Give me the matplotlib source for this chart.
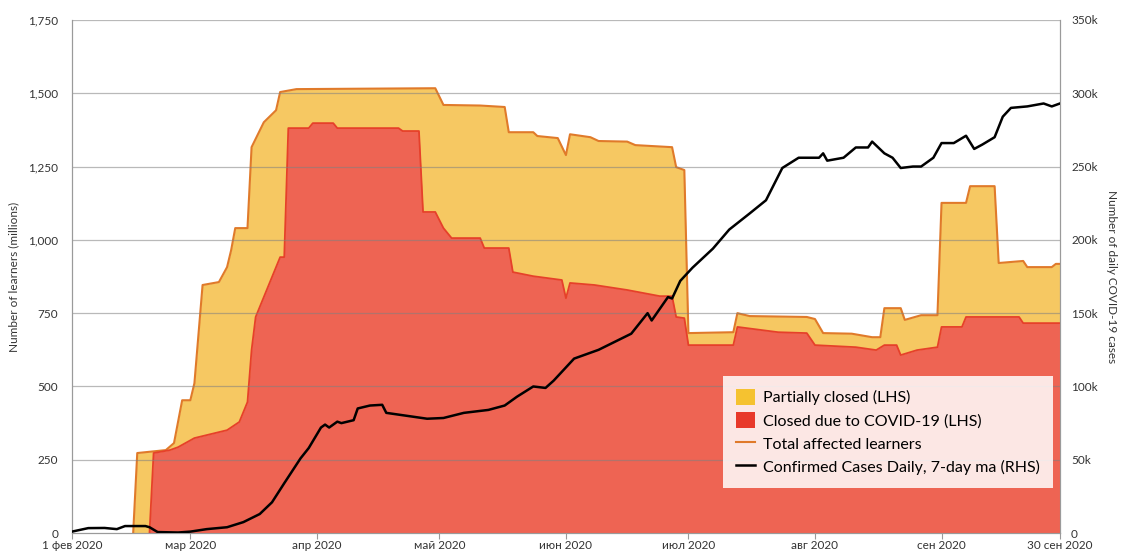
import numpy as np
import pandas as pd
import matplotlib
matplotlib.use('Agg')
import matplotlib.pyplot as plt
from matplotlib.patches import Patch
from matplotlib.lines import Line2D
from matplotlib.ticker import FuncFormatter

plt.rcParams['font.family'] = ['Lato', 'DejaVu Sans']

# ----------------------------------------------------------------------------------------------------------------------
# Data (learners in millions, cases in thousands)
# ----------------------------------------------------------------------------------------------------------------------
total_dates = ['02-16', '02-17', '02-24', '02-26', '02-28', '03-01', '03-02', '03-04', '03-08', '03-10', '03-11',
               '03-12', '03-15', '03-16', '03-19', '03-22', '03-23', '03-27', '04-30', '05-02', '05-11', '05-17',
               '05-18', '05-24', '05-25', '05-30', '06-01', '06-02', '06-07', '06-09', '06-16', '06-18', '06-27',
               '06-28', '06-30', '07-01', '07-12', '07-13', '07-16', '07-30', '08-01', '08-03', '08-10', '08-15',
               '08-17', '08-18', '08-22', '08-23', '08-27', '08-31', '09-01', '09-07', '09-08', '09-14', '09-15',
               '09-21', '09-22', '09-28', '09-29', '09-30']
total_vals = [0, 273, 283, 307, 453, 453, 511, 846, 856, 907, 965,
              1040, 1040, 1316, 1401, 1442, 1504, 1514, 1517, 1460, 1458, 1453,
              1367, 1367, 1354, 1347, 1289, 1360, 1350, 1337, 1335, 1323, 1316,
              1248, 1238, 682, 685, 750, 740, 737, 730, 682, 680, 668,
              668, 767, 767, 727, 743, 743, 1126, 1126, 1183, 1183, 921,
              928, 907, 907, 918, 918]

closed_dates = ['02-20', '02-21', '02-25', '02-27', '03-02', '03-10', '03-13', '03-15', '03-16', '03-17', '03-20',
                '03-21', '03-23', '03-24', '03-25', '03-30', '03-31', '04-05', '04-06', '04-21', '04-22', '04-26',
                '04-27', '04-30', '05-02', '05-04', '05-11', '05-12', '05-18', '05-19', '05-24', '05-31', '06-01',
                '06-02', '06-08', '06-16', '06-24', '06-27', '06-28', '06-30', '07-01', '07-12', '07-13', '07-23',
                '07-30', '08-01', '08-11', '08-16', '08-18', '08-21', '08-22', '08-26', '08-31', '09-01', '09-06',
                '09-07', '09-20', '09-21', '09-30']
closed_vals = [0, 273, 283, 293, 324, 351, 379, 447, 624, 737, 839,
               873, 941, 941, 1381, 1381, 1398, 1398, 1381, 1381, 1371, 1371,
               1095, 1095, 1040, 1006, 1006, 972, 972, 890, 876, 863, 801,
               853, 846, 829, 808, 808, 737, 733, 641, 641, 703, 685,
               682, 641, 634, 624, 641, 641, 607, 624, 634, 703, 703,
               737, 737, 716, 716]

case_dates = ['02-01', '02-05', '02-09', '02-12', '02-14', '02-19', '02-20', '02-22', '02-27', '03-01', '03-05',
              '03-10', '03-14', '03-18', '03-21', '03-24', '03-28', '03-30', '04-02', '04-03', '04-04', '04-06',
              '04-07', '04-10', '04-11', '04-14', '04-17', '04-18', '04-23', '04-28', '05-02', '05-07', '05-13',
              '05-17', '05-20', '05-24', '05-27', '05-29', '06-03', '06-09', '06-17', '06-21', '06-22', '06-26',
              '06-27', '06-29', '07-02', '07-07', '07-11', '07-16', '07-20', '07-24', '07-28', '08-02', '08-03',
              '08-04', '08-08', '08-11', '08-14', '08-15', '08-18', '08-20', '08-22', '08-25', '08-27', '08-30',
              '09-01', '09-04', '09-07', '09-09', '09-11', '09-14', '09-16', '09-18', '09-22', '09-26', '09-28',
              '09-30']
case_vals = [1.0, 3.4, 3.5, 2.7, 4.8, 4.8, 4.0, 0.7, 0.4, 1.0, 2.7,
             4.0, 7.5, 13, 21, 34, 51, 58, 72, 74, 72, 76,
             75, 77, 85, 87, 87.5, 82, 80, 78, 78.5, 82, 84,
             87, 93, 100, 99, 104, 119, 125, 136, 150, 145, 161,
             160, 172, 181, 194, 207, 218, 227, 249, 256, 256, 259,
             254, 256, 263, 263, 267, 259, 256, 249, 250, 250, 256,
             266, 266, 271, 262, 265, 270, 284, 290, 291, 293, 291,
             293]

tick_dates = ['02-01', '03-01', '04-01', '05-01', '06-01', '07-01', '08-01', '09-01', '09-30']
tick_labels = ['1 фев 2020', 'мар 2020', 'апр 2020', 'май 2020', 'июн 2020', 'июл 2020', 'авг 2020', 'сен 2020',
               '30 сен 2020']


def to_dt(days):
    return pd.to_datetime(['2020-' + d for d in days])


# ----------------------------------------------------------------------------------------------------------------------
# Plot
# ----------------------------------------------------------------------------------------------------------------------
fig = plt.figure(figsize=(11.24, 5.53), dpi=100)
ax = fig.add_axes([0.064, 0.036, 0.879, 0.928])

yellow = '#F6C862'
red = '#EE6453'
ax.fill_between(to_dt(total_dates), total_vals, color=yellow, lw=0, zorder=1)
ax.plot(to_dt(total_dates), total_vals, color='#E07A2A', lw=1.5, zorder=2)
ax.fill_between(to_dt(closed_dates), closed_vals, color=red, lw=0, zorder=3)
ax.plot(to_dt(closed_dates), closed_vals, color='#E6402A', lw=1.3, zorder=4)

for v in range(250, 1751, 250):
    ax.axhline(v, color='#808080', lw=0.9, alpha=0.55, zorder=5)

ax.set_ylim(0, 1750)
ax.set_yticks(range(0, 1751, 250))
ax.yaxis.set_major_formatter(FuncFormatter(lambda v, p: f'{int(v):,}'))
ax.set_xlim(pd.Timestamp('2020-02-01'), pd.Timestamp('2020-09-30'))
ax.set_xticks(to_dt(tick_dates))
ax.set_xticklabels(tick_labels)
ax.tick_params(axis='x', labelsize=8.5, color='#9a9a9a', length=4, pad=1, labelcolor='#333333')
ax.tick_params(axis='y', labelsize=8.5, length=0, pad=10, labelcolor='#333333')
ax.set_ylabel('Number of learners (millions)', fontsize=8.5, color='#333333', labelpad=6)
ax.spines['top'].set_visible(False)
for s in ['left', 'bottom', 'right']:
    ax.spines[s].set_color('#9a9a9a')

ax2 = ax.twinx()
ax2.plot(to_dt(case_dates), np.array(case_vals) * 1000, color='black', lw=1.8, zorder=6)
ax2.set_ylim(0, 350000)
ax2.set_yticks(range(0, 350001, 50000))
ax2.yaxis.set_major_formatter(FuncFormatter(lambda v, p: '0' if v == 0 else f'{int(v / 1000)}k'))
ax2.tick_params(axis='y', labelsize=8.5, length=0, pad=8, labelcolor='#333333')
ax2.set_ylabel('Number of daily COVID-19 cases', fontsize=8.5, color='#333333', rotation=-90, labelpad=14)
ax2.spines['top'].set_visible(False)
for s in ['left', 'bottom', 'right']:
    ax2.spines[s].set_color('#9a9a9a')

handles = [Patch(facecolor='#F5C230', edgecolor='none'),
           Patch(facecolor='#E8392A', edgecolor='none'),
           Line2D([], [], color='#E07A2A', lw=1.5),
           Line2D([], [], color='black', lw=1.8)]
labels = ['Partially closed (LHS)', 'Closed due to COVID-19 (LHS)', 'Total affected learners',
          'Confirmed Cases Daily, 7-day ma (RHS)']
leg = ax2.legend(handles, labels, loc='lower right', bbox_to_anchor=(0.993, 0.088), fontsize=11.5,
                 frameon=True, facecolor='white', framealpha=0.85, edgecolor='none', fancybox=False,
                 handlelength=1.2, handleheight=1.2, handletextpad=0.5, labelspacing=0.42, borderpad=0.8,
                 borderaxespad=0)
leg.set_zorder(10)

plt.savefig('out.png', dpi=100)
